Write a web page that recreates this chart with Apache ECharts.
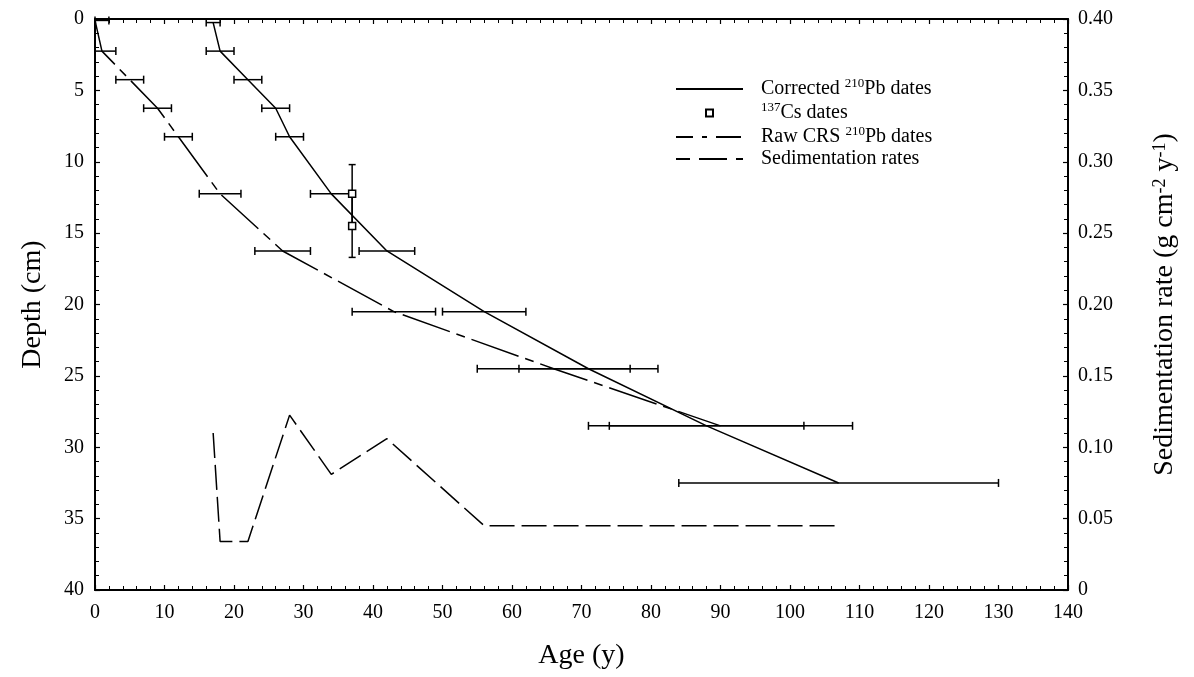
<!DOCTYPE html>
<html>
<head>
<meta charset="utf-8">
<script src="https://cdn.jsdelivr.net/npm/echarts@6/dist/echarts.min.js"></script>
<style>
html,body{margin:0;padding:0;background:#fff;}
#chart{width:1194px;height:677px;}
</style>
</head>
<body>
<div id="chart"></div>
<script>
// ---- data ----
var corrAge   = [17, 18, 22, 26, 28, 34, 42, 56, 71, 88, 107];
var corrDepth = [0.25, 2.25, 4.25, 6.25, 8.25, 12.25, 16.25, 20.5, 24.5, 28.5, 32.5];
var corrLow   = [16, 16, 20, 24, 26, 31, 38, 50, 61, 74, 84];
var corrHigh  = [18, 20, 24, 28, 30, 37, 46, 62, 81, 102, 130];

var rawAge    = [0, 1, 5, 9, 12, 18, 27, 43, 66, 90];
var rawDepth  = [0.1, 2.25, 4.25, 6.25, 8.25, 12.25, 16.25, 20.5, 24.5, 28.5];
var rawLow    = [0, 0, 3, 7, 10, 15, 23, 37, 55, 71];
var rawHigh   = [2, 3, 7, 11, 14, 21, 31, 49, 77, 109];

var csAge       = [37, 37];
var csDepth     = [12.25, 14.5];
var csDepthLow  = [10.2, 12.25];
var csDepthHigh = [14.5, 16.7];

var sedAge  = [17, 18, 22, 28, 34, 42, 56, 71, 88, 107];
var sedRate = [0.110, 0.034, 0.034, 0.1225, 0.081, 0.106, 0.045, 0.045, 0.045, 0.045];

var ageTicks   = [0, 140, 10];
var depthTicks = [0, 40, 5];
var rateTicks  = [0, 0.40, 0.05];

var seriesNames = ['Corrected 210Pb dates', '137Cs dates', 'Raw CRS 210Pb dates', 'Sedimentation rates'];
var legendRich = {
  'Corrected 210Pb dates': '{g| }{n|Corrected }{s|210}{n|Pb dates}',
  '137Cs dates': '{g| }{s|137}{n|Cs dates}',
  'Raw CRS 210Pb dates': '{g| }{n|Raw CRS }{s|210}{n|Pb dates}',
  'Sedimentation rates': '{g| }{n|Sedimentation rates}'
};

// ---- chart ----
var FONT = "'Liberation Serif','Times New Roman',serif";
function zip(a, b) { return a.map(function (v, i) { return [v, b[i]]; }); }

function hBar(params, api) {
  var d = api.value(2);
  var a = api.coord([api.value(0), d]);
  var b = api.coord([api.value(1), d]);
  var c = 4;
  var st = { stroke: '#000', lineWidth: 1.5 };
  return { type: 'group', children: [
    { type: 'line', shape: { x1: a[0], y1: a[1], x2: b[0], y2: b[1] }, style: st },
    { type: 'line', shape: { x1: a[0], y1: a[1] - c, x2: a[0], y2: a[1] + c }, style: st },
    { type: 'line', shape: { x1: b[0], y1: b[1] - c, x2: b[0], y2: b[1] + c }, style: st }
  ]};
}
function vBar(params, api) {
  var x = api.value(0);
  var a = api.coord([x, api.value(1)]);
  var b = api.coord([x, api.value(2)]);
  var c = 3.5;
  var st = { stroke: '#000', lineWidth: 1.5 };
  return { type: 'group', children: [
    { type: 'line', shape: { x1: a[0], y1: a[1], x2: b[0], y2: b[1] }, style: st },
    { type: 'line', shape: { x1: a[0] - c, y1: a[1], x2: a[0] + c, y2: a[1] }, style: st },
    { type: 'line', shape: { x1: b[0] - c, y1: b[1], x2: b[0] + c, y2: b[1] }, style: st }
  ]};
}

var axisLine = { show: true, onZero: false, lineStyle: { color: '#000', width: 2 } };
var axisTick = { show: true, inside: true, length: 5, lineStyle: { color: '#000', width: 1.2 } };
var minorTick = { show: true, splitNumber: 5, length: 4, lineStyle: { color: '#000', width: 1 } };
var labelStyle = { color: '#000', fontSize: 20, fontFamily: FONT };
var noDot = { opacity: 0 };

var chart = echarts.init(document.getElementById('chart'), null, { renderer: 'canvas' });
chart.setOption({
  animation: false,
  backgroundColor: '#fff',
  grid: { left: 95, right: 126, top: 19, bottom: 87, containLabel: false },
  legend: {
    orient: 'vertical', left: 675, top: 77, padding: 0,
    itemWidth: 67, itemHeight: 7, itemGap: 2,
    selectedMode: false,
    data: [
      { name: seriesNames[0], itemStyle: noDot },
      { name: seriesNames[1], icon: 'path://M0 0H10V10H0Z' },
      { name: seriesNames[2], itemStyle: noDot, lineStyle: { type: [25, 9, 5, 9], dashOffset: 8 } },
      { name: seriesNames[3], itemStyle: noDot, lineStyle: { type: [28, 9], dashOffset: 14 } }
    ],
    formatter: function (name) { return legendRich[name]; },
    textStyle: {
      color: '#000', fontFamily: FONT, fontSize: 20,
      rich: {
        g: { width: 13, fontSize: 20, fontFamily: FONT },
        n: { fontSize: 20, fontFamily: FONT, color: '#000', lineHeight: 24 },
        s: { fontSize: 13, fontFamily: FONT, color: '#000', verticalAlign: 'top', lineHeight: 13 }
      }
    }
  },
  xAxis: [
    {
      type: 'value', position: 'bottom', min: ageTicks[0], max: ageTicks[1], interval: ageTicks[2],
      axisLine: axisLine, axisTick: axisTick, minorTick: minorTick,
      splitLine: { show: false },
      axisLabel: Object.assign({ margin: 13 }, labelStyle),
      name: 'Age (y)', nameLocation: 'middle', nameGap: 52,
      nameTextStyle: { color: '#000', fontSize: 28, fontFamily: FONT }
    },
    {
      type: 'value', position: 'top', min: ageTicks[0], max: ageTicks[1], interval: ageTicks[2],
      axisLine: axisLine, axisTick: axisTick, minorTick: minorTick,
      splitLine: { show: false }, axisLabel: { show: false }
    }
  ],
  yAxis: [
    {
      type: 'value', position: 'left', inverse: true,
      min: depthTicks[0], max: depthTicks[1], interval: depthTicks[2],
      axisLine: axisLine, axisTick: axisTick, minorTick: minorTick,
      splitLine: { show: false },
      axisLabel: Object.assign({ margin: 11 }, labelStyle),
      name: 'Depth (cm)', nameLocation: 'middle', nameGap: 48, nameRotate: 90,
      nameTextStyle: { color: '#000', fontSize: 28, fontFamily: FONT }
    },
    {
      type: 'value', position: 'right',
      min: rateTicks[0], max: rateTicks[1], interval: rateTicks[2],
      axisLine: axisLine, axisTick: axisTick, minorTick: minorTick,
      splitLine: { show: false },
      axisLabel: Object.assign({ margin: 10, formatter: function (v) { return v === 0 ? '0' : v.toFixed(2); } }, labelStyle),
      name: 'Sedimentation rate (g cm{s|-2} y{s|-1})', nameLocation: 'middle', nameGap: 83, nameRotate: 90,
      nameTextStyle: {
        color: '#000', fontSize: 28, fontFamily: FONT,
        rich: { s: { fontSize: 18, fontFamily: FONT, color: '#000', verticalAlign: 'top', lineHeight: 18 } }
      }
    }
  ],
  series: [
    {
      type: 'custom', name: 'corrErr', xAxisIndex: 0, yAxisIndex: 0, z: 2,
      renderItem: hBar, encode: { x: [0, 1], y: 2 },
      data: corrLow.map(function (l, i) { return [l, corrHigh[i], corrDepth[i]]; })
    },
    {
      type: 'custom', name: 'rawErr', xAxisIndex: 0, yAxisIndex: 0, z: 2,
      renderItem: hBar, encode: { x: [0, 1], y: 2 },
      data: rawLow.map(function (l, i) { return [l, rawHigh[i], rawDepth[i]]; })
    },
    {
      type: 'custom', name: 'csErr', xAxisIndex: 0, yAxisIndex: 0, z: 2,
      renderItem: vBar, encode: { x: 0, y: [1, 2] },
      data: csAge.map(function (a, i) { return [a, csDepthLow[i], csDepthHigh[i]]; })
    },
    {
      type: 'line', name: seriesNames[0], xAxisIndex: 0, yAxisIndex: 0, z: 3,
      symbol: 'none', lineStyle: { color: '#000', width: 1.5, type: 'solid' },
      itemStyle: { color: '#000' },
      data: zip(corrAge, corrDepth)
    },
    {
      type: 'scatter', name: seriesNames[1], xAxisIndex: 0, yAxisIndex: 0, z: 5,
      symbol: 'rect', symbolSize: 7,
      itemStyle: { color: '#fff', borderColor: '#000', borderWidth: 1.5, opacity: 1 },
      data: zip(csAge, csDepth)
    },
    {
      type: 'line', name: seriesNames[2], xAxisIndex: 0, yAxisIndex: 0, z: 3,
      symbol: 'none', lineStyle: { color: '#000', width: 1.5, type: [50, 7, 9, 7] },
      itemStyle: { color: '#000' },
      data: zip(rawAge, rawDepth)
    },
    {
      type: 'line', name: seriesNames[3], xAxisIndex: 0, yAxisIndex: 1, z: 3,
      symbol: 'none', lineStyle: { color: '#000', width: 1.5, type: [25, 7] },
      itemStyle: { color: '#000' },
      data: zip(sedAge, sedRate)
    }
  ]
});
</script>
</body>
</html>
